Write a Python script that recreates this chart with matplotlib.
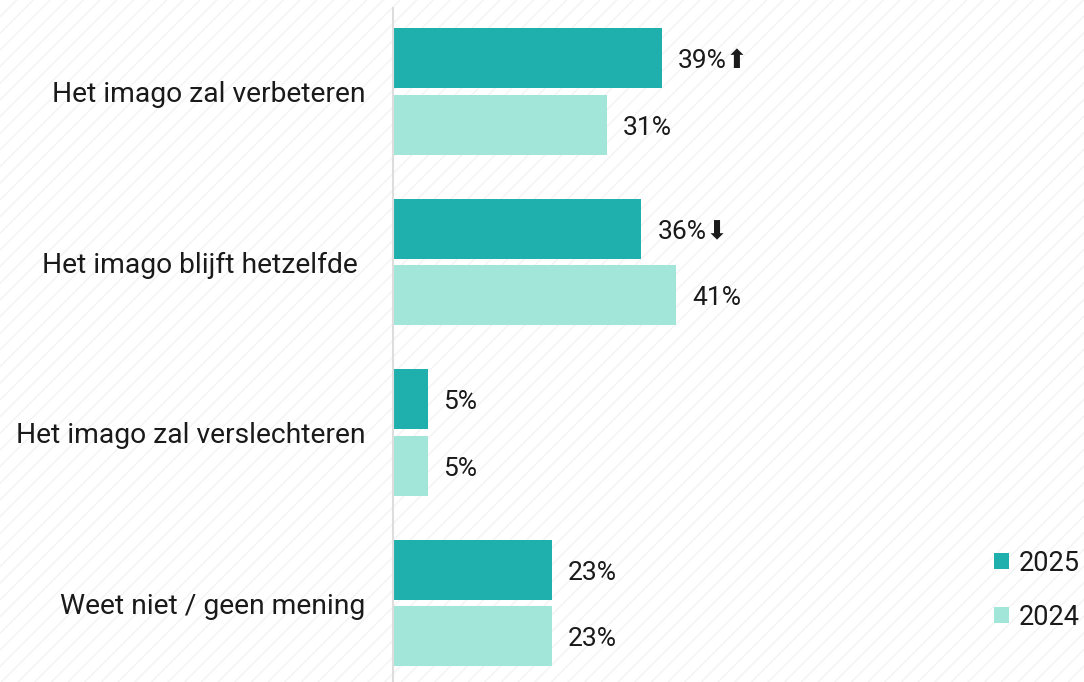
import numpy as np
import matplotlib
matplotlib.use('Agg')
import matplotlib.pyplot as plt
from matplotlib.patches import Rectangle

categories = ['Het imago zal verbeteren', 'Het imago blijft hetzelfde ',
              'Het imago zal verslechteren', 'Weet niet / geen mening']
values_2025 = [39, 36, 5, 23]
values_2024 = [31, 41, 5, 23]
arrows_2025 = ['up', 'down', '', '']
series_names = ['2025', '2024']

c2025 = '#1fb0ad'
c2024 = '#a2e6d9'
txt = '#1a1a1a'

plt.rcParams['font.family'] = ['Roboto', 'DejaVu Sans']

fig = plt.figure(figsize=(10.84, 6.82), dpi=100)

# faint diagonal stripes over the whole background
plt.rcParams['hatch.color'] = '#f3f3f3'
plt.rcParams['hatch.linewidth'] = 1.0
bg = Rectangle((0, 0), 1, 1, transform=fig.transFigure, facecolor='white',
               edgecolor='#f3f3f3', hatch='//', linewidth=0, zorder=-10)
fig.patches.append(bg)

ax = fig.add_axes([393 / 1084, 0, 690 / 1084, 674 / 682])
ax.set_facecolor('none')

y = np.arange(len(categories))
h = 0.352
off = 0.196
ax.barh(y - off, values_2025, height=h, color=c2025, label=series_names[0])
ax.barh(y + off, values_2024, height=h, color=c2024, label=series_names[1])

ax.set_xlim(0, 100)
ax.set_ylim(3.463, -0.49)

arrow_sym = {'up': '\u2b06', 'down': '\u2b07', '': ''}
for i, (a, b) in enumerate(zip(values_2025, values_2024)):
    ax.annotate(f'{a}%' + arrow_sym[arrows_2025[i]], (a, i - off), xytext=(16, -3),
                textcoords='offset pixels', va='center', ha='left',
                fontsize=19, color=txt)
    ax.annotate(f'{b}%', (b, i + off), xytext=(16, -3), textcoords='offset pixels',
                va='center', ha='left', fontsize=19, color=txt)

ax.set_yticks(y)
ax.set_yticklabels(categories, fontsize=20.3, color=txt)
ax.tick_params(axis='y', length=0, pad=20)
ax.set_xticks([])
for s in ['top', 'right', 'bottom']:
    ax.spines[s].set_visible(False)
ax.spines['left'].set_color('#dddddd')
ax.spines['left'].set_linewidth(1.5)

ax.legend(loc='lower right', bbox_to_anchor=(1.03, 0.04), frameon=False,
          fontsize=19.5, handlelength=0.55, handleheight=0.55, handletextpad=0.35,
          labelspacing=1.0, labelcolor=txt)

fig.savefig('out.png', dpi=100)
